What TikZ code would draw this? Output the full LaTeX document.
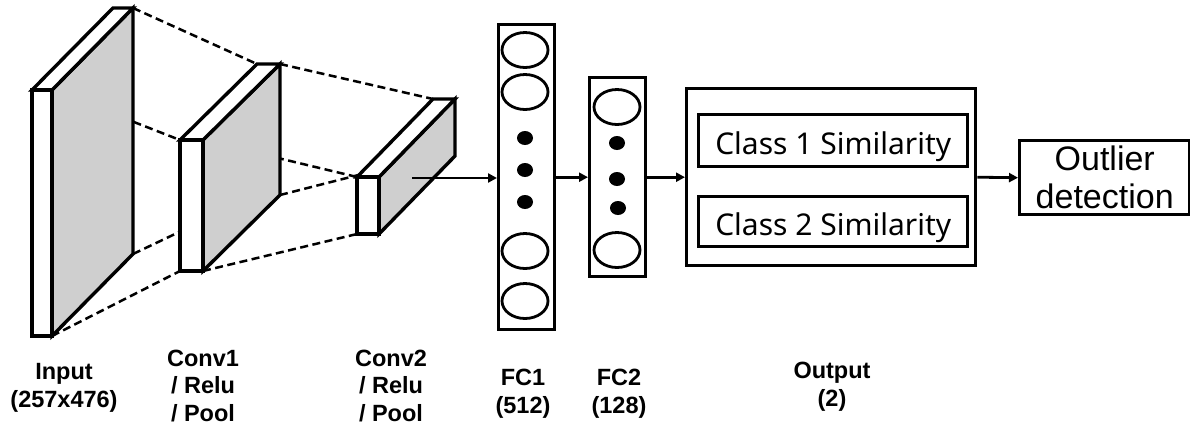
\documentclass[tikz,border=0pt]{standalone}
\usepackage{fontspec}
\newfontfamily\arialf{Liberation Sans}
\newfontfamily\notof{Noto Sans}
\usetikzlibrary{arrows.meta,shapes.geometric,calc}
\newcommand\myslab[7]{%
  \coordinate (#1-ftl) at (#2,#3);
  \coordinate (#1-ftr) at (#4,#3);
  \coordinate (#1-fbl) at (#2,#5);
  \coordinate (#1-fbr) at (#4,#5);
  \coordinate (#1-btl) at ($(#1-ftl)+(#6,#7)$);
  \coordinate (#1-btr) at ($(#1-ftr)+(#6,#7)$);
  \coordinate (#1-bbl) at ($(#1-fbl)+(#6,#7)$);
  \coordinate (#1-bbr) at ($(#1-fbr)+(#6,#7)$);
}
\newcommand\drawslab[1]{%
  \draw[face,fill=gray!38] (#1-ftr) -- (#1-btr) -- (#1-bbr) -- (#1-fbr) -- cycle;
  \draw[face,fill=white] (#1-ftl) -- (#1-btl) -- (#1-btr) -- (#1-ftr) -- cycle;
  \draw[face,fill=white] (#1-ftl) rectangle (#1-fbr);
}
\begin{document}
\begin{tikzpicture}[x=1pt,y=-1pt,
  box/.style={draw,line width=3.4pt,inner sep=0pt},
  neuron/.style={draw,ellipse,line width=2.8pt,minimum width=46pt,minimum height=35pt,inner sep=0pt},
  dotn/.style={fill,ellipse,minimum width=16pt,minimum height=14pt,inner sep=0pt},
  proj/.style={dash pattern=on 8pt off 4.5pt,line width=2.5pt},
  arr/.style={line width=2.8pt,-{Triangle[length=9pt,width=9pt]}},
  lbl/.style={font=\arialf\bfseries\fontsize{23.5}{27.5}\selectfont,align=center,inner sep=0pt,anchor=base},
  face/.style={line width=3.4pt,line join=miter}]
\useasboundingbox (0,0) rectangle (1190,426);

% slabs geometry
\myslab{in}{32}{90}{52}{336}{81}{-82}
\myslab{ca}{180}{140}{203}{271}{77}{-76}
\myslab{cb}{357}{177}{379}{234}{76}{-78}

% projection lines
\draw[proj] (in-ftr) -- (ca-ftl);
\draw[proj] (in-btr) -- (ca-btl);
\draw[proj] (in-bbr) -- (ca-bbl);
\draw[proj] (in-fbr) -- (ca-fbl);
\draw[proj] (ca-ftr) -- (cb-ftl);
\draw[proj] (ca-btr) -- (cb-btl);
\draw[proj] (ca-bbr) -- (cb-bbl);
\draw[proj] (ca-fbr) -- (cb-fbl);

\drawslab{in}
\drawslab{ca}
\drawslab{cb}
\coordinate (c2src) at (412,178);

% FC1
\node[box,minimum width=56pt,minimum height=305pt,anchor=north west] (fc1) at (497,23) {};
\node[neuron] (n11) at (525,50) {};
\node[neuron] (n12) at (525,92) {};
\node[dotn] (d11) at (525,138) {};
\node[dotn] (d12) at (525,170) {};
\node[dotn] (d13) at (525,202) {};
\node[neuron] (n13) at (525,251) {};
\node[neuron] (n14) at (525,301) {};

% FC2
\node[box,minimum width=56pt,minimum height=199pt,anchor=north west] (fc2) at (588,76) {};
\node[neuron] (n21) at (617,107) {};
\node[dotn] (d21) at (617,143) {};
\node[dotn] (d22) at (617,179) {};
\node[dotn] (d23) at (618,208) {};
\node[neuron] (n22) at (617,250) {};

% Output
\node[box,minimum width=289pt,minimum height=177pt,anchor=north west] (out) at (685,87) {};
\node[box,minimum width=269pt,minimum height=52pt,anchor=north west,
  font=\notof\fontsize{30}{32}\selectfont,text height=28pt,text depth=1pt] (cls1) at (697,113) {Class 1 Similarity};
\node[box,minimum width=269pt,minimum height=50pt,anchor=north west,
  font=\notof\fontsize{30}{32}\selectfont,text height=28pt,text depth=1pt] (cls2) at (697,195) {Class 2 Similarity};

% Outlier
\node[box,minimum width=170pt,minimum height=74pt,anchor=north west,align=center,
  font=\arialf\fontsize{34}{38}\selectfont] (outl) at (1018,139) {Outlier\\detection};

% arrows
\draw[arr] (c2src) -- (c2src -| fc1.west);
\draw[arr] (fc1.east) -- (fc2.west);
\draw[arr] (fc2.east) -- (out.west);
\draw[arr] (out.east) -- (outl.west);

% labels
\node[lbl] (lin) at (64,407) {Input\\(257x476)};
\node[lbl] (lca) at (203,421) {Conv1\\/ Relu\\/ Pool};
\node[lbl] (lcb) at (391,421) {Conv2\\/ Relu\\/ Pool};
\node[lbl] (lf1) at (523,413) {FC1\\(512)};
\node[lbl] (lf2) at (619,413) {FC2\\(128)};
\node[lbl] (lout) at (832,406) {Output\\(2)};
\end{tikzpicture}
\end{document}
